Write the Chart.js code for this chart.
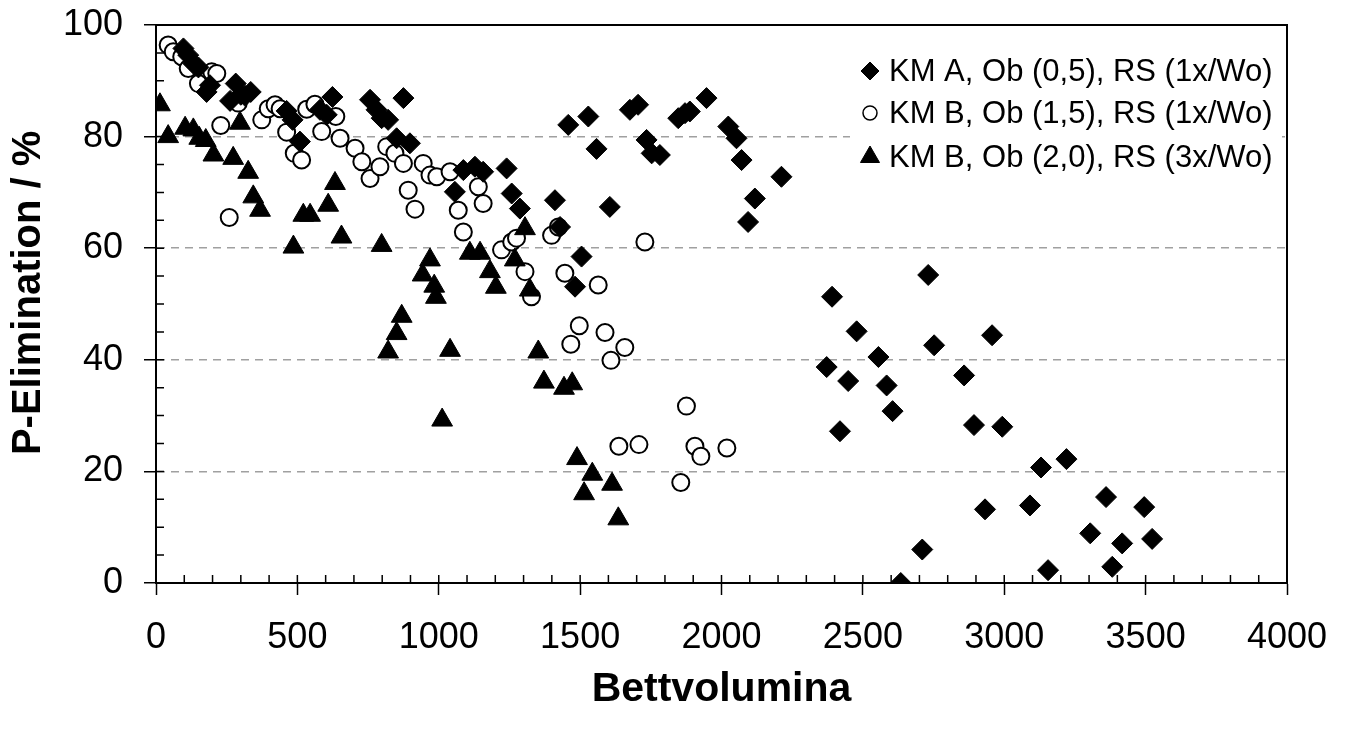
<!DOCTYPE html>
<html>
<head>
<meta charset="utf-8">
<script src="https://cdn.jsdelivr.net/npm/chart.js@4.4.0/dist/chart.umd.min.js"></script>
<style>
    html, body { margin: 0; padding: 0; background: #fff; }
</style>
</head>
<body>
<canvas id="scatterChart" width="1345" height="733"></canvas>
<script>
// KM A, Ob (0,5), RS (1x/Wo)
const kmA_bv = [97, 114, 132, 150, 179, 191, 262, 282, 300, 315, 335, 462, 483, 509, 580, 604, 624,
    757, 780, 798, 821, 851, 875, 898, 1057, 1087, 1128, 1157, 1240, 1258, 1287, 1411, 1429, 1458,
    1482, 1505, 1529, 1558, 1605, 1676, 1705, 1735, 1753, 1782, 1847, 1871, 1888, 1947, 2024, 2053,
    2071, 2094, 2118, 2212, 2372, 2391, 2419, 2448, 2478, 2555, 2584, 2605, 2634, 2710, 2731, 2752,
    2858, 2893, 2932, 2957, 2993, 3091, 3130, 3155, 3220, 3304, 3360, 3382, 3417, 3495, 3523];
const kmA_p = [95.8, 94.6, 93.1, 92.4, 88, 89.2, 86.4, 89.5, 87.5, 87.3, 88, 84.6, 83, 79.1, 84.8, 83.9, 87.1,
    86.6, 84.8, 83.3, 83, 79.7, 86.9, 78.8, 70.1, 74, 74.6, 73.7, 74.3, 69.8, 67.1, 68.6, 63.8, 82.1,
    53.1, 58.5, 83.6, 77.8, 67.4, 84.8, 85.7, 79.4, 77, 76.7, 83.3, 84.2, 84.5, 86.9, 81.8, 79.7,
    75.8, 64.7, 68.9, 72.8, 38.7, 51.3, 27.2, 36.2, 45.1, 40.5, 35.4, 30.8, 0, 6, 55.2, 42.6,
    37.2, 28.3, 13.2, 44.4, 28, 13.9, 20.7, 2.3, 22.2, 8.9, 15.4, 2.9, 7.1, 13.6, 7.9];

// KM B, Ob (1,5), RS (1x/Wo)
const kmB15_bv = [43, 61, 91, 114, 150, 197, 215, 229, 259, 291, 374, 397, 421, 439, 462, 489, 515, 533,
    562, 586, 636, 651, 704, 728, 757, 792, 816, 845, 875, 892, 916, 945, 969, 993, 1040, 1069,
    1087, 1140, 1157, 1222, 1258, 1275, 1305, 1328, 1399, 1423, 1446, 1467, 1497, 1564, 1588, 1609,
    1658, 1729, 1876, 1637, 1708, 1906, 1927, 2019, 1856];
const kmB15_p = [96.4, 95.2, 94.3, 92.2, 89.5, 91.6, 91.3, 82, 65.5, 86, 83, 85, 85.7, 85, 80.8, 77, 75.8, 84.9,
    85.8, 80.9, 83.6, 79.7, 77.9, 75.5, 72.5, 74.6, 78.2, 77, 75.2, 70.4, 67, 75.2, 73.1, 72.8, 73.7, 66.8,
    62.9, 71, 68, 59.7, 61.1, 61.8, 55.8, 51.3, 62.3, 63.8, 55.5, 42.8, 46.1, 53.4, 44.9, 39.9,
    42.2, 61.1, 31.7, 24.5, 24.8, 24.5, 22.7, 24.2, 18];

// KM B, Ob (2,0), RS (3x/Wo)
const kmB20_bv = [14, 43, 103, 132, 153, 176, 203, 273, 297, 326, 344, 368, 486, 521, 545, 609, 633, 656,
    798, 821, 851, 869, 943, 969, 984, 990, 1012, 1040, 1110, 1146, 1181, 1202, 1269, 1305, 1322,
    1352, 1372, 1443, 1472, 1489, 1543, 1613, 1514, 1635];
const kmB20_p = [85.7, 80, 81.5, 81.2, 79.7, 79.3, 76.7, 76.1, 82.4, 73.6, 69.2, 66.8, 60.2, 65.9, 65.9, 67.7, 71.6, 62,
    60.5, 41.4, 44.7, 47.8, 55.2, 57.9, 53.2, 51.2, 29.2, 41.7, 59.1, 59.1, 55.8, 53, 57.9, 63.5, 52.5,
    41.4, 36, 34.9, 35.7, 22.3, 19.5, 17.7, 16, 11.5];

const seriesNames = ['KM A, Ob (0,5), RS (1x/Wo)', 'KM B, Ob (1,5), RS (1x/Wo)', 'KM B, Ob (2,0), RS (3x/Wo)'];
const xTitle = 'Bettvolumina';
const yTitle = 'P-Elimination / %';

const FONT = "'Liberation Sans', Arial, Helvetica, sans-serif";

function toPoints(xs, ys) {
    return xs.map((v, i) => ({ x: v, y: ys[i] }));
}

// small inside ticks + frame round the plot area
const frameTicks = {
    id: 'frameTicks',
    beforeDatasetsDraw(chart) {
        const { ctx, chartArea, scales } = chart;
        ctx.save();
        ctx.strokeStyle = '#000';
        ctx.lineWidth = 1.5;
        ctx.beginPath();
        for (let v = 100; v < 4000; v += 100) {
            const px = scales.x.getPixelForValue(v);
            ctx.moveTo(px, chartArea.bottom);
            ctx.lineTo(px, chartArea.bottom - 8);
        }
        for (let v = 5; v < 100; v += 5) {
            const py = scales.y.getPixelForValue(v);
            ctx.moveTo(chartArea.left, py);
            ctx.lineTo(chartArea.left + 8, py);
        }
        ctx.stroke();
        ctx.lineWidth = 2;
        ctx.strokeRect(chartArea.left, chartArea.top, chartArea.right - chartArea.left, chartArea.bottom - chartArea.top);
        ctx.restore();
    }
};

// legend inside the plot, top right
const boxLegend = {
    id: 'boxLegend',
    afterDatasetsDraw(chart) {
        const { ctx } = chart;
        const rows = [71, 113, 157];
        const styles = [
            { pointStyle: 'rectRot', radius: 9, borderWidth: 1, fill: '#000' },
            { pointStyle: 'circle', radius: 7, borderWidth: 1.5, fill: '#fff' },
            { pointStyle: 'triangle', radius: 11, borderWidth: 1, fill: '#000' }
        ];
        ctx.save();
        ctx.fillStyle = '#fff';
        ctx.fillRect(850, 45, 432, 138);
        styles.forEach((s, i) => {
            ctx.fillStyle = s.fill;
            ctx.strokeStyle = '#000';
            ctx.lineWidth = s.borderWidth;
            Chart.helpers.drawPoint(ctx, { pointStyle: s.pointStyle, radius: s.radius, borderWidth: s.borderWidth, rotation: 0 }, 870, rows[i]);
            ctx.fillStyle = '#000';
            ctx.font = '31px ' + FONT;
            ctx.textBaseline = 'middle';
            ctx.textAlign = 'left';
            ctx.fillText(seriesNames[i], 889, rows[i] + 1);
        });
        ctx.restore();
    }
};

new Chart(document.getElementById('scatterChart'), {
    type: 'scatter',
    data: {
        datasets: [{
            label: seriesNames[0],
            data: toPoints(kmA_bv, kmA_p),
            pointStyle: 'rectRot',
            pointRadius: 10.5,
            backgroundColor: '#000',
            borderColor: '#000',
            borderWidth: 1,
            order: 0
        }, {
            label: seriesNames[1],
            data: toPoints(kmB15_bv, kmB15_p),
            pointStyle: 'circle',
            pointRadius: 8.5,
            backgroundColor: '#fff',
            borderColor: '#000',
            borderWidth: 2,
            order: 2
        }, {
            label: seriesNames[2],
            data: toPoints(kmB20_bv, kmB20_p),
            pointStyle: 'triangle',
            pointRadius: 12,
            backgroundColor: '#000',
            borderColor: '#000',
            borderWidth: 1,
            order: 1
        }]
    },
    options: {
        responsive: false,
        animation: false,
        events: [],
        layout: { padding: { left: 0, right: 58, top: 25, bottom: 0 } },
        scales: {
            x: {
                type: 'linear',
                min: 0,
                max: 4000,
                afterFit: (scale) => {
                    scale.height = 150;
                    scale.paddingLeft = 0;
                    scale.paddingRight = 0;
                },
                ticks: {
                    stepSize: 500, color: '#000', padding: 21, maxRotation: 0,
                    font: { family: FONT, size: 36 },
                    callback: (v) => String(v)
                },
                grid: { drawOnChartArea: false, tickLength: 12, tickColor: '#000', tickWidth: 1.5 },
                border: { display: true, color: '#000', width: 2 },
                title: { display: true, text: xTitle, color: '#000', font: { family: FONT, size: 41, weight: 'bold' }, padding: { top: 0, bottom: 19 } }
            },
            y: {
                min: 0,
                max: 100,
                afterFit: (scale) => {
                    scale.width = 156;
                    scale.paddingTop = 0;
                    scale.paddingBottom = 0;
                },
                ticks: {
                    stepSize: 20, color: '#000', padding: 21,
                    font: { family: FONT, size: 36 },
                    callback: (v) => String(v)
                },
                grid: {
                    color: (c) => (c.tick && (c.tick.value === 0 || c.tick.value === 100)) ? 'rgba(0,0,0,0)' : '#a0a0a0',
                    lineWidth: 1.5,
                    tickLength: 12,
                    tickColor: '#000',
                    tickWidth: 1.5,
                    tickBorderDash: []
                },
                border: { display: true, color: '#000', width: 2, dash: [8, 6] },
                // two leading spaces lift the rotated title a little, as in the original
                title: { display: true, text: '  ' + yTitle, color: '#000', font: { family: FONT, size: 40, weight: 'bold' }, padding: { top: 5, bottom: 0 } }
            }
        },
        plugins: {
            legend: { display: false },
            tooltip: { enabled: false }
        }
    },
    plugins: [frameTicks, boxLegend]
});
</script>
</body>
</html>
